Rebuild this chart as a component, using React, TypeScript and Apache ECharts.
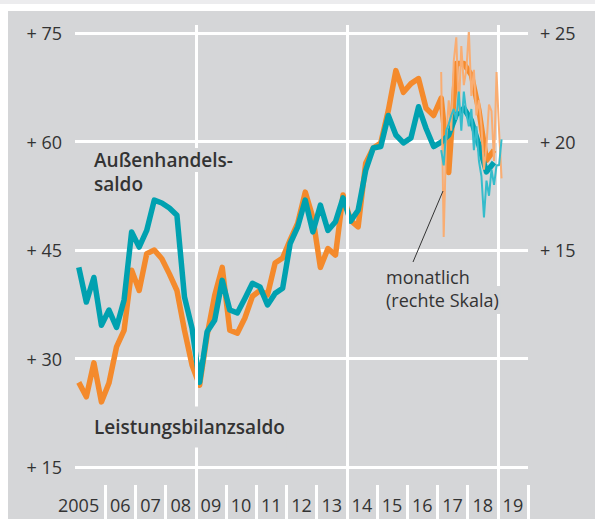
import React, { useEffect, useRef } from "react";
import * as echarts from "echarts";

// Year labels on the x axis
const yearLabels = ["2005", "06", "07", "08", "09", "10", "11", "12", "13", "14", "15", "16", "17", "18", "19"];

// Quarterly series (left scale), from 2005 Q1 to 2018 Q4
const firstYear = 2005;
const balanceQuarterly = [
  26.7, 24.7, 29.4, 24.0,
  26.6, 31.6, 33.9, 42.2,
  39.4, 44.5, 45.0, 43.8,
  41.7, 39.4, 33.9, 29.1,
  26.3, 33.2, 38.7, 42.6,
  33.9, 33.5, 35.6, 38.6,
  39.4, 38.8, 43.2, 43.9,
  46.4, 48.7, 53.0, 49.5,
  42.6, 45.2, 44.3, 52.6,
  49.1, 48.2, 57.0, 59.1,
  59.8, 64.3, 69.8, 66.8,
  68.0, 68.7, 64.6, 63.6,
  66.0, 55.7, 70.8, 70.8,
  69.2, 64.3, 57.4, 58.8,
];
const tradeQuarterly = [
  42.6, 37.8, 41.2, 34.6,
  36.7, 34.3, 38.1, 47.5,
  45.4, 47.7, 51.9, 51.5,
  50.8, 49.8, 38.5, 34.2,
  26.7, 33.7, 35.3, 40.8,
  36.7, 36.3, 38.3, 40.4,
  39.9, 37.4, 39.0, 39.7,
  45.9, 48.2, 51.9, 47.5,
  51.2, 47.7, 48.9, 52.2,
  49.0, 50.5, 56.0, 59.1,
  59.3, 63.6, 60.9, 59.8,
  60.5, 64.8, 61.8, 59.3,
  59.9, 60.9, 63.7, 64.6,
  62.9, 59.5, 55.8, 57.1,
];

// Monthly series (right scale), from Feb 2017 to Feb 2019
const monthlyStartYear = 2017;
const monthlyStartMonth = 2;
const balanceMonthly = [
  23.2, 15.6, 20.1, 21.9, 20.5, 23.7, 24.8, 21.4, 24.4, 22.6, 23.3, 25.1,
  22.1, 23.3, 21.2, 21.9, 20.7, 18.7, 19.8, 21.7, 21.4, 19.1, 23.2, 20.5, 18.3,
];
const tradeMonthly = [
  19.6, 18.9, 20.5, 20.8, 21.2, 21.5, 21.0, 22.3, 20.5, 22.3, 21.3, 20.7,
  21.5, 19.6, 20.7, 19.1, 18.4, 16.5, 18.2, 17.5, 18.7, 18.0, 18.9, 18.9, 20.1,
];

const leftAxis = { min: 15, max: 75, step: 15 };
const rightAxis = { min: 5, max: 25, step: 5, firstLabel: 15 };
const markerYears = [2009, 2014, 2019];

const FONT = '"Open Sans", "Noto Sans", sans-serif';
const TEXT = "#333333";
const BG = "#d5d6d8";
const ORANGE = "#f48a2c";
const TEAL = "#00a1b0";
const ORANGE_LIGHT = "#f9ad72";
const TEAL_LIGHT = "#35bccb";

const quarterPoints = (vals: number[]) => vals.map((v, i) => [firstYear + (i + 0.5) / 4, v]);
const monthPoints = (vals: number[]) =>
  vals.map((v, i) => [monthlyStartYear + (monthlyStartMonth - 1 + i + 0.5) / 12, v]);

export default function App() {
  const ref = useRef<HTMLDivElement>(null);
  useEffect(() => {
    if (!ref.current) return;
    const chart = echarts.init(ref.current, undefined, { renderer: "svg" });
    const option: any = {
      animation: false,
      backgroundColor: "#ffffff",
      grid: [
        { left: 75, right: 67, top: 33, bottom: 52 },
        { left: 75, right: 67, top: 25, bottom: 0 },
      ],
      xAxis: [
        {
          type: "category",
          gridIndex: 0,
          data: yearLabels,
          boundaryGap: true,
          position: "bottom",
          offset: 18,
          axisLine: { show: false },
          axisTick: {
            show: true,
            length: 34,
            inside: false,
            interval: (index: number) => index !== 0,
            lineStyle: { color: "#ffffff", width: 3 },
          },
          axisLabel: {
            margin: 11,
            fontSize: 18,
            color: TEXT,
            fontFamily: FONT,
            interval: 0,
            formatter: (v: string, i: number) => (i === 0 ? "{first|" + v + "}" : v),
            rich: { first: { fontSize: 18, color: TEXT, fontFamily: FONT, padding: [0, 23, 0, 0] } },
          },
          splitLine: { show: false },
        },
        { type: "value", gridIndex: 0, min: 2005, max: 2020, show: false },
        { type: "value", gridIndex: 1, min: 2005, max: 2020, show: false },
      ],
      yAxis: [
        {
          type: "value",
          gridIndex: 0,
          min: leftAxis.min,
          max: leftAxis.max,
          interval: leftAxis.step,
          position: "left",
          axisLine: { show: false },
          axisTick: { show: false },
          axisLabel: { margin: 13, fontSize: 18, color: TEXT, fontFamily: FONT, formatter: (v: number) => "+ " + v },
          splitLine: { show: true, lineStyle: { color: "#ffffff", width: 3 } },
        },
        {
          type: "value",
          gridIndex: 0,
          min: rightAxis.min,
          max: rightAxis.max,
          interval: rightAxis.step,
          position: "right",
          axisLine: { show: false },
          axisTick: { show: false },
          axisLabel: {
            margin: 12,
            fontSize: 18,
            color: TEXT,
            fontFamily: FONT,
            formatter: (v: number) => (v >= rightAxis.firstLabel ? "+ " + v : ""),
          },
          splitLine: { show: false },
        },
        { type: "value", gridIndex: 1, min: 0, max: 1, show: false },
      ],
      series: [
        {
          type: "line",
          xAxisIndex: 2,
          yAxisIndex: 2,
          z: 1,
          silent: true,
          data: [[markerYears[0], 0.5]],
          symbol: "none",
          lineStyle: { opacity: 0 },
          markLine: {
            silent: true,
            symbol: ["none", "none"],
            label: { show: false },
            lineStyle: { color: "#ffffff", width: 3, type: "solid" },
            data: markerYears.map((y) => ({ xAxis: y })),
          },
        },
        {
          name: "Leistungsbilanzsaldo",
          type: "line",
          xAxisIndex: 1,
          yAxisIndex: 0,
          z: 3,
          data: quarterPoints(balanceQuarterly),
          symbol: "none",
          lineStyle: { color: ORANGE, width: 5.5, join: "round" },
        },
        {
          name: "Außenhandelssaldo",
          type: "line",
          xAxisIndex: 1,
          yAxisIndex: 0,
          z: 4,
          data: quarterPoints(tradeQuarterly),
          symbol: "none",
          lineStyle: { color: TEAL, width: 5.5, join: "round" },
        },
        {
          name: "Leistungsbilanzsaldo monatlich",
          type: "line",
          xAxisIndex: 1,
          yAxisIndex: 1,
          z: 5,
          data: monthPoints(balanceMonthly),
          symbol: "none",
          lineStyle: { color: ORANGE_LIGHT, width: 2 },
        },
        {
          name: "Außenhandelssaldo monatlich",
          type: "line",
          xAxisIndex: 1,
          yAxisIndex: 1,
          z: 6,
          data: monthPoints(tradeMonthly),
          symbol: "none",
          lineStyle: { color: TEAL_LIGHT, width: 2 },
        },
      ],
      graphic: [
        { type: "rect", z: -100, silent: true, shape: { x: 0, y: 0, width: 595, height: 4 }, style: { fill: "#ececee" } },
        { type: "rect", z: -100, silent: true, shape: { x: 8, y: 11, width: 587, height: 508 }, style: { fill: BG } },
        {
          type: "text",
          z: 10,
          x: 92,
          y: 160,
          style: {
            text: "Außenhandels-",
            fontSize: 19,
            fontWeight: 600,
            fontFamily: FONT,
            fill: TEXT,
            verticalAlign: "middle",
            backgroundColor: BG,
            padding: [5, 2, 0, 2],
          },
        },
        {
          type: "text",
          z: 10,
          x: 94,
          y: 184,
          style: { text: "saldo", fontSize: 19, fontWeight: 600, fontFamily: FONT, fill: TEXT, verticalAlign: "middle" },
        },
        {
          type: "text",
          z: 10,
          x: 92,
          y: 427,
          style: {
            text: "Leistungsbilanzsaldo",
            fontSize: 19,
            fontWeight: 600,
            fontFamily: FONT,
            fill: TEXT,
            verticalAlign: "middle",
            backgroundColor: BG,
            padding: [11, 2, 11, 2],
          },
        },
        {
          type: "text",
          z: 10,
          x: 386,
          y: 277,
          style: { text: "monatlich", fontSize: 18, fontFamily: FONT, fill: TEXT, verticalAlign: "middle" },
        },
        {
          type: "text",
          z: 10,
          x: 384,
          y: 300,
          style: {
            text: "(rechte Skala)",
            fontSize: 18,
            fontFamily: FONT,
            fill: TEXT,
            verticalAlign: "middle",
            backgroundColor: BG,
            padding: [5, 2, 5, 2],
          },
        },
        {
          type: "line",
          z: 10,
          silent: true,
          shape: { x1: 443, y1: 191, x2: 413, y2: 262 },
          style: { stroke: "#333333", lineWidth: 1 },
        },
      ],
    };
    chart.setOption(option);
    return () => chart.dispose();
  }, []);
  return (
    <div
      ref={ref}
      style={{ position: "absolute", left: 0, top: 0, width: 595, height: 519 }}
    />
  );
}
